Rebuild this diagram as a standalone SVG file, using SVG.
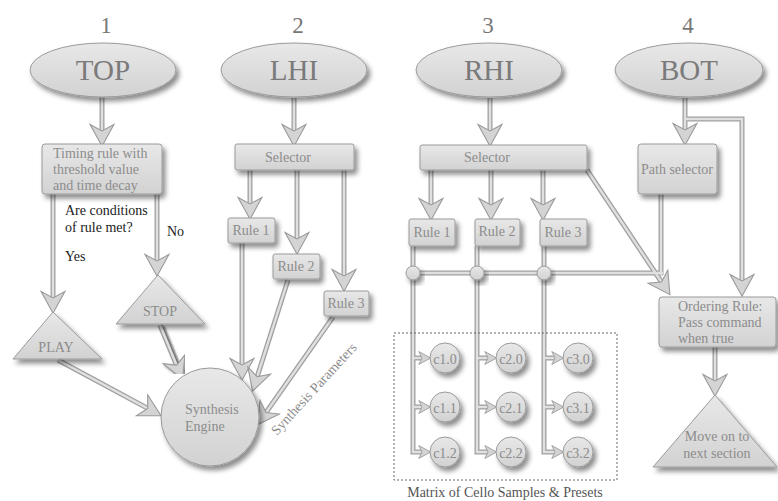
<svg xmlns="http://www.w3.org/2000/svg" width="778" height="501" viewBox="0 0 778 501">
<style>
.nd{fill:url(#gf);stroke:#9a9a9a;stroke-width:1;filter:url(#sh)}
text{font-family:"Liberation Serif",serif}
.t{fill:#8c8c8c;font-size:14px}
.big{font-size:29px;fill:#7a7a7a;text-anchor:middle}
.num{font-size:23px;fill:#777;text-anchor:middle}
.mid{text-anchor:middle}
.blk{font-size:14px;fill:#222}
.outer{fill:none;stroke:#a0a0a0;stroke-width:5}
.inner{fill:none;stroke:#e0e0e0;stroke-width:2.4;marker-end:none}
.heads{fill:none;stroke:none}
.hb{marker-end:url(#ah)}
.hs{marker-end:url(#as)}
</style>
<defs>
<linearGradient id="gf" x1="0" y1="0" x2="0" y2="1">
<stop offset="0" stop-color="#e8e8e8"/>
<stop offset="1" stop-color="#d2d2d2"/>
</linearGradient>
<filter id="sh" x="-20%" y="-20%" width="150%" height="160%">
<feDropShadow dx="3" dy="4" stdDeviation="2.5" flood-color="#000" flood-opacity="0.45"/>
</filter>
<filter id="lsh" x="-50%" y="-20%" width="200%" height="140%">
<feDropShadow dx="2" dy="2" stdDeviation="1.2" flood-color="#000" flood-opacity="0.5"/>
</filter>
<marker id="ah" markerUnits="userSpaceOnUse" markerWidth="24" markerHeight="26" viewBox="-1 -12 22 24" refX="6" refY="0" orient="auto">
<path d="M0,-11 L20,0 L0,11 L6,0 Z" fill="#d4d4d4" stroke="#999" stroke-width="1"/>
</marker>
<marker id="as" markerUnits="userSpaceOnUse" markerWidth="14" markerHeight="16" viewBox="-1 -7 13 14" refX="3" refY="0" orient="auto">
<path d="M0,-6 L11,0 L0,6 L3,0 Z" fill="#d4d4d4" stroke="#999" stroke-width="0.8"/>
</marker>
</defs>
<rect width="778" height="501" fill="#fff"/>

<g id="connectors">
<g class="outer">
<path id="c1" d="M102,97 V131"/>
<path id="c2" d="M53,194 V298"/>
<path id="c3" d="M157,194 V261"/>
<path id="c4" d="M58,360 L147.7,408.4"/>
<path id="c5" d="M160,325 L176.6,365.1" filter="url(#lsh)"/>
<path id="c6" d="M294,98 V131"/>
<path id="c7" d="M250,170 V204"/>
<path id="c8" d="M297,170 V239"/>
<path id="c9" d="M344,170 V276"/>
<path id="c10" d="M242,243 V365"/>
<path id="c11" d="M288,280 L257.2,376.7"/>
<path id="c12" d="M333,317 L266,412.5"/>
<path id="c13" d="M490,98 V131"/>
<path id="c14" d="M431,170 V205"/>
<path id="c15" d="M491,170 V205"/>
<path id="c16" d="M543,170 V205"/>
<path id="c17" d="M587,170 L661.5,282"/>
<path id="c18" d="M413,273 H663"/>
<path id="c19" d="M661,194 V275"/>
<path id="c20" d="M413,246 V452 H422"/>
<path id="c21" d="M413,358 H422"/>
<path id="c22" d="M413,407 H422"/>
<path id="c23" d="M477,246 V452 H488"/>
<path id="c24" d="M477,358 H488"/>
<path id="c25" d="M477,407 H488"/>
<path id="c26" d="M544,246 V452 H555"/>
<path id="c27" d="M544,358 H555"/>
<path id="c28" d="M544,407 H555"/>
<path id="c29" d="M685,98 V130"/>
<path id="c30" d="M685,119 H742 V281"/>
<path id="c31" d="M715,347 V381"/>
</g>
<g class="inner">
<use href="#c1"/><use href="#c2"/><use href="#c3"/><use href="#c4"/><use href="#c5"/>
<use href="#c6"/><use href="#c7"/><use href="#c8"/><use href="#c9"/><use href="#c10"/>
<use href="#c11"/><use href="#c12"/><use href="#c13"/><use href="#c14"/><use href="#c15"/>
<use href="#c16"/><use href="#c17"/><use href="#c18"/><use href="#c19"/><use href="#c20"/>
<use href="#c21"/><use href="#c22"/><use href="#c23"/><use href="#c24"/><use href="#c25"/>
<use href="#c26"/><use href="#c27"/><use href="#c28"/><use href="#c29"/><use href="#c30"/><use href="#c31"/>
</g>
<g class="heads">
<use href="#c1" class="hb"/><use href="#c2" class="hb"/><use href="#c3" class="hb"/><use href="#c4" class="hb"/>
<use href="#c5" class="hb"/><use href="#c6" class="hb"/><use href="#c7" class="hb"/><use href="#c8" class="hb"/>
<use href="#c9" class="hb"/><use href="#c10" class="hb"/><use href="#c11" class="hb"/><use href="#c12" class="hb"/>
<use href="#c13" class="hb"/><use href="#c14" class="hb"/><use href="#c15" class="hb"/><use href="#c16" class="hb"/>
<use href="#c17" class="hb"/><use href="#c29" class="hb"/><use href="#c30" class="hb"/><use href="#c31" class="hb"/>
<use href="#c20" class="hs"/><use href="#c21" class="hs"/><use href="#c22" class="hs"/>
<use href="#c23" class="hs"/><use href="#c24" class="hs"/><use href="#c25" class="hs"/>
<use href="#c26" class="hs"/><use href="#c27" class="hs"/><use href="#c28" class="hs"/>
</g>
</g>

<g id="titles">
<text class="num" x="106" y="33">1</text>
<text class="num" x="298" y="33">2</text>
<text class="num" x="488" y="33">3</text>
<text class="num" x="688" y="33">4</text>
</g>

<g id="top"><ellipse class="nd" cx="103" cy="70" rx="73" ry="27"/><text class="t big" x="103" y="80">TOP</text></g>
<g id="lhi"><ellipse class="nd" cx="294" cy="70" rx="73" ry="27"/><text class="t big" x="294" y="80">LHI</text></g>
<g id="rhi"><ellipse class="nd" cx="489" cy="70" rx="73" ry="27"/><text class="t big" x="489" y="80">RHI</text></g>
<g id="bot"><ellipse class="nd" cx="689" cy="70" rx="74" ry="27"/><text class="t big" x="689" y="80">BOT</text></g>

<g id="timing"><rect class="nd" x="42" y="144" width="120" height="50" rx="3"/>
<text class="t" x="53" y="158">Timing rule with</text>
<text class="t" x="53" y="174">threshold value</text>
<text class="t" x="53" y="190">and time decay</text></g>

<g id="conditions"><text class="blk" x="65" y="215">Are conditions</text><text class="blk" x="65" y="232">of rule met?</text></g>
<g id="no"><text class="blk" x="167" y="236">No</text></g>
<g id="yes"><text class="blk" x="65" y="261">Yes</text></g>

<g id="play"><path class="nd" d="M53,312 L102,359 L13,359 Z"/><text class="t mid" x="56" y="352">PLAY</text></g>
<g id="stop"><path class="nd" d="M158,275 L205,324 L116,324 Z"/><text class="t mid" x="160" y="316">STOP</text></g>

<g id="synth"><circle class="nd" cx="210" cy="417" r="49"/>
<text class="t" x="185" y="414">Synthesis</text><text class="t" x="185" y="431">Engine</text></g>

<g id="lsel"><rect class="nd" x="235" y="144" width="119" height="26" rx="2"/><text class="t mid" x="288" y="162">Selector</text></g>
<g id="lr1"><rect class="nd" x="228" y="218" width="47" height="25" rx="2"/><text class="t mid" x="251" y="235">Rule 1</text></g>
<g id="lr2"><rect class="nd" x="273" y="254" width="47" height="25" rx="2"/><text class="t mid" x="296" y="271">Rule 2</text></g>
<g id="lr3"><rect class="nd" x="324" y="291" width="45" height="25" rx="2"/><text class="t mid" x="346" y="308">Rule 3</text></g>

<g id="synparams"><text class="t" x="0" y="0" font-size="13.5" transform="translate(277,436) rotate(-47.5)">Synthesis Parameters</text></g>

<g id="rsel"><rect class="nd" x="420" y="145" width="167" height="25" rx="2"/><text class="t mid" x="487" y="162">Selector</text></g>
<g id="rr1"><rect class="nd" x="409" y="219" width="46" height="27" rx="2"/><text class="t mid" x="432" y="237">Rule 1</text></g>
<g id="rr2"><rect class="nd" x="475" y="219" width="45" height="27" rx="2"/><text class="t mid" x="497" y="236">Rule 2</text></g>
<g id="rr3"><rect class="nd" x="540" y="219" width="47" height="27" rx="2"/><text class="t mid" x="563" y="237">Rule 3</text></g>

<g id="junctions">
<circle class="nd" cx="413" cy="273" r="7"/>
<circle class="nd" cx="477" cy="273" r="7"/>
<circle class="nd" cx="544" cy="273" r="7"/>
</g>

<g id="matrix">
<rect x="394" y="333" width="223" height="147" fill="none" stroke="#666" stroke-width="1" stroke-dasharray="2,2"/>
<text class="t mid" x="505" y="497" style="fill:#555">Matrix of Cello Samples &amp; Presets</text>
</g>
<g id="c10n"><circle class="nd" cx="445" cy="358" r="15"/><text class="t mid" x="445" y="364" font-size="16">c1.0</text></g>
<g id="c11n"><circle class="nd" cx="445" cy="407" r="15"/><text class="t mid" x="445" y="413" font-size="16">c1.1</text></g>
<g id="c12n"><circle class="nd" cx="445" cy="452" r="15"/><text class="t mid" x="445" y="458" font-size="16">c1.2</text></g>
<g id="c20n"><circle class="nd" cx="511" cy="358" r="15"/><text class="t mid" x="511" y="364" font-size="16">c2.0</text></g>
<g id="c21n"><circle class="nd" cx="511" cy="407" r="15"/><text class="t mid" x="511" y="413" font-size="16">c2.1</text></g>
<g id="c22n"><circle class="nd" cx="511" cy="452" r="15"/><text class="t mid" x="511" y="458" font-size="16">c2.2</text></g>
<g id="c30n"><circle class="nd" cx="578" cy="358" r="15"/><text class="t mid" x="578" y="364" font-size="16">c3.0</text></g>
<g id="c31n"><circle class="nd" cx="578" cy="407" r="15"/><text class="t mid" x="578" y="413" font-size="16">c3.1</text></g>
<g id="c32n"><circle class="nd" cx="578" cy="452" r="15"/><text class="t mid" x="578" y="458" font-size="16">c3.2</text></g>

<g id="pathsel"><rect class="nd" x="638" y="144" width="79" height="50" rx="3"/><text class="t mid" x="677" y="174">Path selector</text></g>
<g id="ordering"><rect class="nd" x="659" y="297" width="117" height="50" rx="3"/>
<text class="t" x="678" y="311" font-size="15">Ordering Rule:</text>
<text class="t" x="678" y="327" font-size="15">Pass command</text>
<text class="t" x="678" y="343" font-size="15">when true</text></g>
<g id="moveon"><path class="nd" d="M715,395 L777,467 L653,467 Z"/>
<text class="t mid" x="717" y="441" font-size="15">Move on to</text>
<text class="t mid" x="717" y="458" font-size="15">next section</text></g>
</svg>
